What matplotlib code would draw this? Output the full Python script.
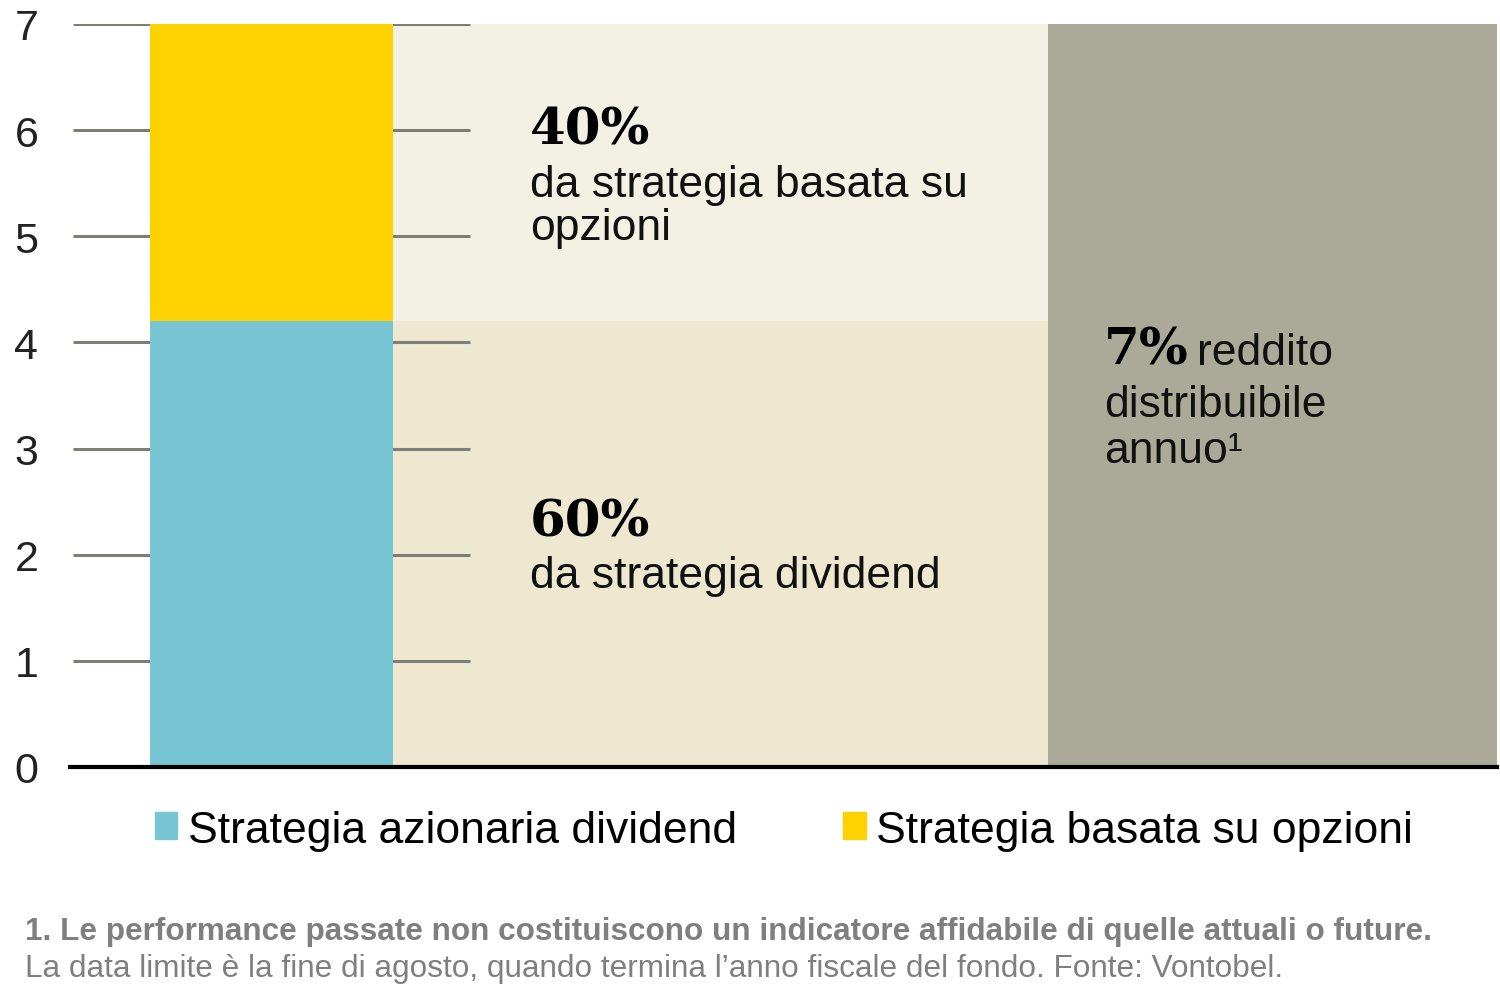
import matplotlib.pyplot as plt
from matplotlib.patches import Patch

# data
total_yield = 7.0
shares = [0.6, 0.4]
share_labels = ['60%', '40%']
series_names = ['Strategia azionaria dividend', 'Strategia basata su opzioni']
ticks = [0, 1, 2, 3, 4, 5, 6, 7]

colors = ['#78C5D3', '#FDD200']
panel_colors = ['#EEE8D1', '#F3F1E4']
gray = '#ABAA99'
grid_col = '#7E7E74'
sans = 'Liberation Sans'


def main():
    fig = plt.figure(figsize=(15, 10.04), dpi=100)
    ax = fig.add_axes([73 / 1500, 1 - 768 / 1004, 1424 / 1500, 743 / 1004])
    ax.set_xlim(0, 1424)
    ax.set_ylim(0, 7)

    parts = [total_yield * s for s in shares]
    bottoms = [0, parts[0]]

    # background panels behind the text
    for h, b, c in zip(parts, bottoms, panel_colors):
        ax.bar(320, h, bottom=b, width=655, align='edge', color=c, zorder=1)
    ax.bar(975, total_yield, width=449, align='edge', color=gray, zorder=1)

    # short grid lines
    ax.hlines(ticks[1:], 0, 397, color=grid_col, lw=2.2, zorder=2)

    # stacked bar
    for h, b, c in zip(parts, bottoms, colors):
        ax.bar(77, h, bottom=b, width=243, align='edge', color=c, zorder=3)

    ax.plot([-3, 1424], [0, 0], color='black', lw=3, clip_on=False, zorder=4)

    ax.set_yticks(ticks)
    ax.set_yticklabels([str(t) for t in ticks], fontsize=31, family=sans,
                       color='#222222')
    ax.tick_params(axis='y', length=0, pad=25)
    ax.set_xticks([])
    for s in ax.spines.values():
        s.set_visible(False)

    # annotations
    big = dict(family='DejaVu Serif', weight='bold', fontsize=37, va='baseline')
    txt = dict(family=sans, fontsize=32, va='baseline', color='#111111')
    ax.text(457, 5.87, share_labels[1], **big)
    ax.text(457, 5.38, 'da strategia basata su', **txt)
    ax.text(457, 4.97, 'opzioni', **txt)
    ax.text(457, 2.18, share_labels[0], **big)
    ax.text(457, 1.70, 'da strategia dividend', **txt)
    ax.text(1031, 3.80, '7%', **big)
    ax.text(1124, 3.80, 'reddito', **txt)
    ax.text(1031, 3.31, 'distribuibile', **txt)
    ax.text(1031, 2.87, 'annuo\u00b9', **txt)

    handles = [Patch(color=c) for c in colors]
    fig.legend(handles, series_names, loc='center', ncol=2,
               bbox_to_anchor=(784 / 1500, 1 - 831 / 1004), frameon=False,
               prop=dict(family=sans, size=32), handlelength=0.5,
               handleheight=0.57, handletextpad=0.23, columnspacing=2.4)

    fig.text(25 / 1500, 1 - 940 / 1004,
             '1. Le performance passate non costituiscono un indicatore '
             'affidabile di quelle attuali o future.',
             family=sans, weight='bold', fontsize=22.7, color='#7F7F7F',
             va='baseline')
    fig.text(25 / 1500, 1 - 977 / 1004,
             'La data limite è la fine di agosto, quando termina l\u2019anno '
             'fiscale del fondo. Fonte: Vontobel.',
             family=sans, fontsize=22.7, color='#7F7F7F', va='baseline')

    fig.savefig('out.png', dpi=100)


if __name__ == '__main__':
    main()
